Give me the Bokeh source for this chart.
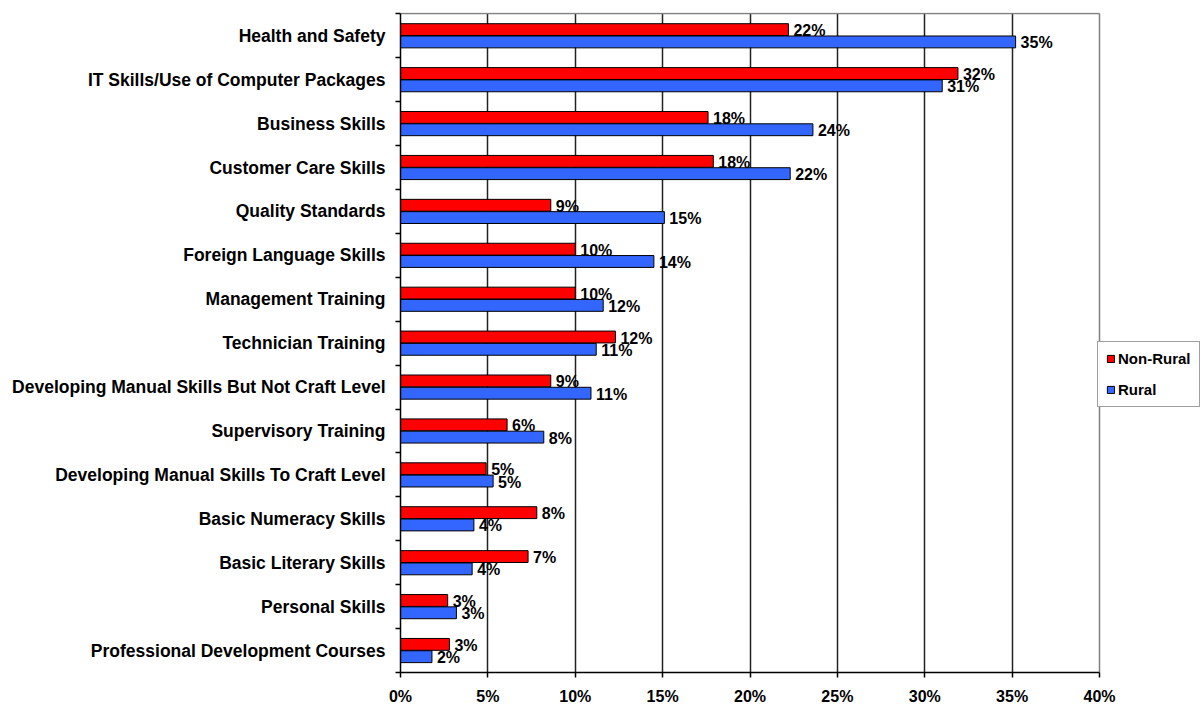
from bokeh.plotting import figure
from bokeh.models import ColumnDataSource, FixedTicker, Legend, LegendItem, Range1d, Grid
from bokeh.core.properties import value
from bokeh.embed import file_html
from bokeh.resources import INLINE

# ---- data (top to bottom as shown) ----
categories = [
    "Health and Safety",
    "IT Skills/Use of Computer Packages",
    "Business Skills",
    "Customer Care Skills",
    "Quality Standards",
    "Foreign Language Skills",
    "Management Training",
    "Technician Training",
    "Developing Manual Skills But Not Craft Level",
    "Supervisory Training",
    "Developing Manual Skills To Craft Level",
    "Basic Numeracy Skills",
    "Basic Literary Skills",
    "Personal Skills",
    "Professional Development Courses",
]
non_rural = [22.2, 31.9, 17.6, 17.9, 8.6, 10.0, 10.0, 12.3, 8.6, 6.1, 4.9, 7.8, 7.3, 2.7, 2.8]
rural = [35.2, 31.0, 23.6, 22.3, 15.1, 14.5, 11.6, 11.2, 10.9, 8.2, 5.3, 4.2, 4.1, 3.2, 1.8]
x_ticks = [0, 5, 10, 15, 20, 25, 30, 35, 40]
x_tick_labels = ["0%", "5%", "10%", "15%", "20%", "25%", "30%", "35%", "40%"]
series_names = ["Non-Rural", "Rural"]

FONT = "Liberation Sans"
n = len(categories)
centers = [n - i - 0.5 for i in range(n)]
off = 0.14
bar_h = 0.27

# layout: plotting area 0..40% spans 699px; frame extends to the right edge
W, H = 1203, 707
LEFT, TOP, BOTTOM = 400, 12, 34
AXIS_PX = 699
x_max = x_ticks[-1]
x_end = x_max * (W - LEFT) / AXIS_PX
y_end = n + 0.03  # a sliver of room so the grey top border is visible

src_nr = ColumnDataSource(dict(
    y=[c + off for c in centers], v=non_rural,
    lab=["%d%%" % round(v) for v in non_rural]))
src_r = ColumnDataSource(dict(
    y=[c - off for c in centers], v=rural,
    lab=["%d%%" % round(v) for v in rural]))

p = figure(width=W, height=H,
           x_range=Range1d(0, x_end), y_range=Range1d(0, y_end),
           output_backend="svg", toolbar_location=None,
           min_border_left=LEFT, min_border_top=TOP,
           min_border_bottom=BOTTOM, min_border_right=0)
p.background_fill_color = "white"
p.border_fill_color = "white"
p.outline_line_color = None

r1 = p.hbar(y="y", right="v", left=0, height=bar_h, source=src_nr,
            fill_color="#FF0000", line_color="black", line_width=1)
r2 = p.hbar(y="y", right="v", left=0, height=bar_h, source=src_r,
            fill_color="#3366FF", line_color="black", line_width=1)

for s in (src_nr, src_r):
    p.text(x="v", y="y", text="lab", source=s, x_offset=5, y_offset=1,
           text_font=value(FONT), text_font_style="bold",
           text_font_size="16px", text_baseline="middle",
           text_align="left", text_color="black")

# x axis
p.xaxis.ticker = FixedTicker(ticks=x_ticks)
p.xaxis.bounds = (0, x_max)
p.xaxis.major_label_overrides = {t: l for t, l in zip(x_ticks, x_tick_labels)}
p.xaxis.major_label_text_font = FONT
p.xaxis.major_label_text_font_style = "bold"
p.xaxis.major_label_text_font_size = "16px"
p.xaxis.major_label_text_color = "black"
p.xaxis.major_label_standoff = 10
p.xaxis.major_tick_out = 5
p.xaxis.major_tick_in = 0
p.xaxis.minor_tick_line_color = None
p.xaxis.axis_line_color = "black"
p.xaxis.axis_line_width = 1.5
p.xaxis.major_tick_line_width = 1.5

# y axis: labels at centres, ticks at category boundaries
p.yaxis.ticker = FixedTicker(ticks=centers, minor_ticks=list(range(n + 1)))
p.yaxis.bounds = (0, n)
p.yaxis.major_label_overrides = {c: cat for c, cat in zip(centers, categories)}
p.yaxis.major_label_text_font = FONT
p.yaxis.major_label_text_font_style = "bold"
p.yaxis.major_label_text_font_size = "17.5px"
p.yaxis.major_label_text_color = "black"
p.yaxis.major_tick_line_color = None
p.yaxis.major_tick_out = 0
p.yaxis.major_tick_in = 0
p.yaxis.major_label_standoff = 10
p.yaxis.minor_tick_out = 5
p.yaxis.minor_tick_in = 0
p.yaxis.minor_tick_line_color = "black"
p.yaxis.minor_tick_line_width = 1.5
p.yaxis.axis_line_color = "black"
p.yaxis.axis_line_width = 1.5

# vertical gridlines
p.xgrid.ticker = FixedTicker(ticks=x_ticks[1:-1])
p.xgrid.grid_line_color = "#222222"
p.xgrid.grid_line_width = 1.5
p.xgrid.cross_bounds = (0, n)
# plot-area border (right at 40%, top) in grey
p.add_layout(Grid(dimension=0, ticker=FixedTicker(ticks=[x_max]), cross_bounds=(0, n),
                  grid_line_color="#808080", grid_line_width=1.5))
p.ygrid.ticker = FixedTicker(ticks=[n])
p.ygrid.cross_bounds = (0, x_max)
p.ygrid.grid_line_color = "#808080"
p.ygrid.grid_line_width = 1.5

legend = Legend(items=[LegendItem(label=series_names[0], renderers=[r1]),
                       LegendItem(label=series_names[1], renderers=[r2])],
                location=(AXIS_PX - 2, 265), orientation="vertical")
legend.label_text_font = FONT
legend.label_text_font_style = "bold"
legend.label_text_font_size = "15px"
legend.label_text_color = "black"
legend.glyph_width = 9
legend.glyph_height = 9
legend.label_standoff = 3
legend.spacing = 14
legend.padding = 8
legend.margin = 0
legend.border_line_color = "#404040"
legend.border_line_width = 1
legend.background_fill_color = "white"
p.add_layout(legend, "center")

open("out.html", "w").write(file_html(p, INLINE))
